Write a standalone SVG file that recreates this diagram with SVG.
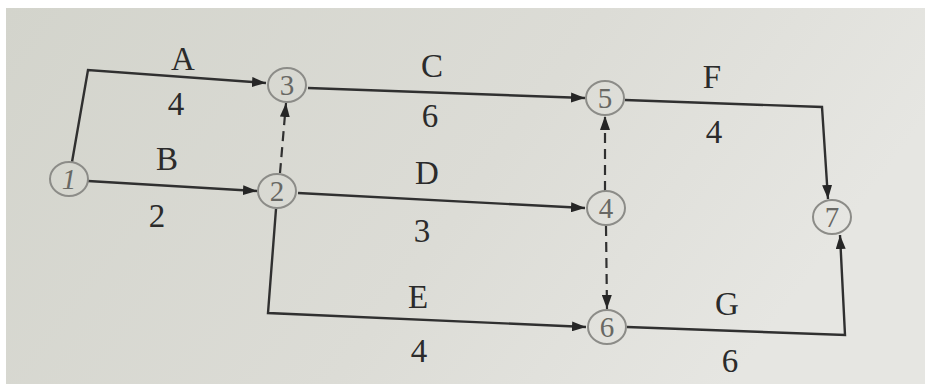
<svg xmlns="http://www.w3.org/2000/svg" width="925" height="389" viewBox="0 0 925 389">
  <defs>
    <linearGradient id="bg" x1="0" y1="0" x2="1" y2="0.3">
      <stop offset="0" stop-color="#d3d4cc"/>
      <stop offset="0.6" stop-color="#dcdcd6"/>
      <stop offset="1" stop-color="#e6e6e2"/>
    </linearGradient>
    <marker id="arr" viewBox="0 0 14 10" refX="14" refY="5" markerWidth="14" markerHeight="10" markerUnits="userSpaceOnUse" orient="auto">
      <path d="M0,0 L14,5 L0,10 Z" fill="#262626"/>
    </marker>
    <style>
      .lbl { font-family: "Liberation Serif", "Times New Roman", serif; font-size: 33px; fill: #2b2b2b; text-anchor: middle; }
      .node ellipse { fill: none; stroke: #8c8c88; stroke-width: 2; }
      .node text { font-family: "Liberation Serif", "Times New Roman", serif; font-size: 29px; fill: #686864; text-anchor: middle; }
      .edge { fill: none; stroke: #303030; stroke-width: 2.4; marker-end: url(#arr); }
      .dash { fill: none; stroke: #303030; stroke-width: 2.2; stroke-dasharray: 10 6; marker-end: url(#arr); }
    </style>
  </defs>
  <rect x="0" y="0" width="925" height="389" fill="#ffffff"/>
  <rect x="6" y="8" width="919" height="376" fill="url(#bg)"/>

  <g id="connectors">
    <path class="edge" d="M72,162 L88,70 L266,83"/>
    <path class="edge" d="M88,181 L257,191"/>
    <path class="dash" d="M280,173 L286,103"/>
    <path class="edge" d="M308,88 L585,98"/>
    <path class="edge" d="M298,193 L585,208"/>
    <path class="edge" d="M276,209 L268,313 L586,327"/>
    <path class="dash" d="M605,191 L605,116"/>
    <path class="dash" d="M606,226 L607,309"/>
    <path class="edge" d="M625,100 L822,107 L828,199"/>
    <path class="edge" d="M627,327 L845,335 L840,235"/>
  </g>

  <g id="labels">
    <text class="lbl" x="183" y="70">A</text>
    <text class="lbl" x="176" y="115">4</text>
    <text class="lbl" x="167" y="170">B</text>
    <text class="lbl" x="157" y="227">2</text>
    <text class="lbl" x="432" y="77">C</text>
    <text class="lbl" x="430" y="127">6</text>
    <text class="lbl" x="427" y="184">D</text>
    <text class="lbl" x="422" y="242">3</text>
    <text class="lbl" x="418" y="308">E</text>
    <text class="lbl" x="419" y="362">4</text>
    <text class="lbl" x="712" y="88">F</text>
    <text class="lbl" x="714" y="143">4</text>
    <text class="lbl" x="727" y="315">G</text>
    <text class="lbl" x="730" y="372">6</text>
  </g>

  <g id="n1" class="node"><ellipse cx="69" cy="179" rx="19" ry="17"/><text x="69" y="189" font-style="italic">1</text></g>
  <g id="n2" class="node"><ellipse cx="277" cy="191" rx="19" ry="17"/><text x="277" y="201">2</text></g>
  <g id="n3" class="node"><ellipse cx="287" cy="85" rx="19" ry="17"/><text x="287" y="95">3</text></g>
  <g id="n4" class="node"><ellipse cx="606" cy="208" rx="19" ry="17"/><text x="606" y="218">4</text></g>
  <g id="n5" class="node"><ellipse cx="605" cy="98" rx="19" ry="17"/><text x="605" y="108">5</text></g>
  <g id="n6" class="node"><ellipse cx="607" cy="327" rx="19" ry="17"/><text x="607" y="337">6</text></g>
  <g id="n7" class="node"><ellipse cx="832" cy="217" rx="19" ry="17"/><text x="832" y="227">7</text></g>
</svg>
